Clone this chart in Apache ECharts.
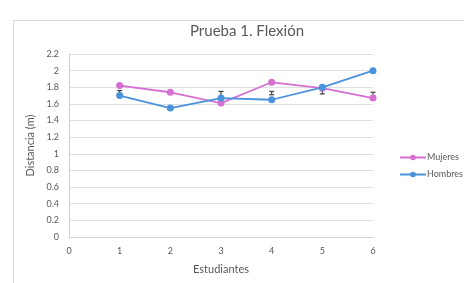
<!DOCTYPE html>
<html>
<head>
<meta charset="utf-8">
<script src="https://cdn.jsdelivr.net/npm/echarts@6/dist/echarts.min.js"></script>
<style>
  html, body { margin: 0; padding: 0; background: #fff; }
  #chart { width: 464px; height: 283px; }
</style>
</head>
<body>
<div id="chart"></div>
<script>
// estudiantes 1..6
var students = [1, 2, 3, 4, 5, 6];
var mujeres = [1.82, 1.74, 1.61, 1.86, 1.79, 1.67];
var hombres = [1.70, 1.55, 1.67, 1.65, 1.80, 2.00];
// barras de error (oscuras, cerca de 1.7)
var errLow = [1.72, 1.72, 1.68, 1.71, 1.72, 1.70];
var errHigh = [1.76, 1.74, 1.75, 1.75, 1.76, 1.74];

var textColor = '#595959';
var font = 'Lato, "Open Sans", sans-serif';

function pairs(xs, ys) {
  return xs.map(function (x, i) { return [x, ys[i]]; });
}

var errData = students.map(function (x, i) { return [x, errLow[i], errHigh[i]]; });

var option = {
  animation: false,
  textStyle: { fontFamily: font },
  title: {
    text: 'Prueba 1. Flexión',
    left: 242, top: 19, textAlign: 'center',
    textStyle: { fontSize: 15, fontWeight: 'normal', color: textColor, fontFamily: font }
  },
  graphic: [{
    type: 'rect', left: 11, top: 18, z: -1,
    shape: { width: 470, height: 280 },
    style: { fill: 'none', stroke: '#d9d9d9', lineWidth: 1 }
  }],
  legend: {
    orient: 'vertical', left: 394, top: 148, itemGap: 8,
    itemWidth: 26, itemHeight: 7,
    data: ['Mujeres', 'Hombres'],
    textStyle: { fontSize: 9, color: textColor, padding: [0, 0, 0, -4] }
  },
  grid: { left: 69, right: 91, top: 54, bottom: 46 },
  xAxis: {
    type: 'value', min: 0, max: 6, interval: 1,
    name: 'Estudiantes', nameLocation: 'middle', nameGap: 27,
    nameTextStyle: { fontSize: 11, color: textColor },
    axisLine: { lineStyle: { color: '#d0d0d0' } },
    axisTick: { show: false },
    splitLine: { show: false },
    axisLabel: { fontSize: 9, color: textColor, margin: 10 }
  },
  yAxis: {
    type: 'value', min: 0, max: 2.2, interval: 0.2,
    name: 'Distancia (m)', nameLocation: 'middle', nameGap: 28,
    nameTextStyle: { fontSize: 11, color: textColor },
    axisLine: { show: true, lineStyle: { color: '#d0d0d0' } },
    axisTick: { show: false },
    splitLine: { lineStyle: { color: '#e0e0e0' } },
    axisLabel: {
      fontSize: 9, color: textColor, margin: 10,
      formatter: function (v) { return String(Math.round(v * 10) / 10); }
    }
  },
  series: [
    {
      name: 'Mujeres', type: 'line', data: pairs(students, mujeres),
      symbol: 'circle', symbolSize: 7,
      lineStyle: { width: 1.8, color: '#d66fd2' },
      itemStyle: { color: '#d66fd2' }
    },
    {
      name: 'Hombres', type: 'line', data: pairs(students, hombres),
      symbol: 'circle', symbolSize: 7,
      lineStyle: { width: 1.8, color: '#4a93dc' },
      itemStyle: { color: '#4a93dc' }
    },
    {
      name: 'error', type: 'custom', data: errData, z: 1,
      renderItem: function (params, api) {
        var lo = api.coord([api.value(0), api.value(1)]);
        var hi = api.coord([api.value(0), api.value(2)]);
        var w = 2.5;
        var st = { stroke: '#404040', lineWidth: 1.2 };
        return {
          type: 'group',
          children: [
            { type: 'line', shape: { x1: hi[0], y1: hi[1], x2: lo[0], y2: lo[1] }, style: st },
            { type: 'line', shape: { x1: hi[0] - w, y1: hi[1], x2: hi[0] + w, y2: hi[1] }, style: st },
            { type: 'line', shape: { x1: lo[0] - w, y1: lo[1], x2: lo[0] + w, y2: lo[1] }, style: st }
          ]
        };
      }
    }
  ]
};

echarts.init(document.getElementById('chart')).setOption(option);
</script>
</body>
</html>
